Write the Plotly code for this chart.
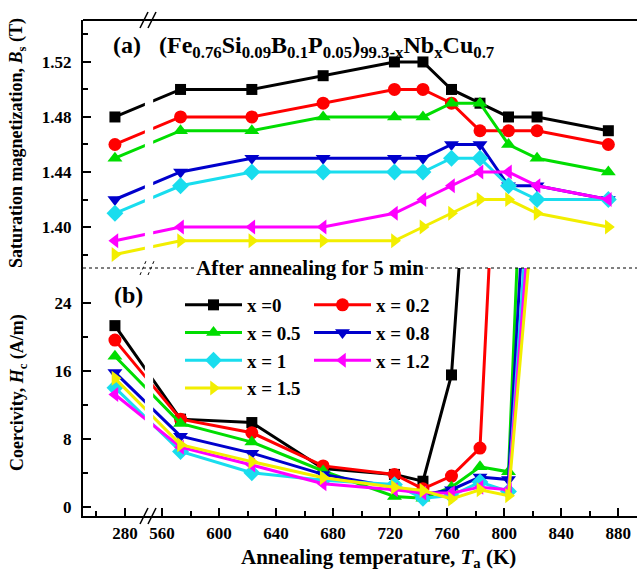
import plotly.graph_objects as go

# ---------------- data ----------------
T = [273, 573, 623, 673, 723, 743, 763, 783, 803, 823, 873]   # annealing temperature (K); 273 = as-quenched
labels = ["x =0", "x = 0.2", "x = 0.5", "x = 0.8", "x = 1", "x = 1.2", "x = 1.5"]

Bs_x0  = [1.48, 1.50, 1.50, 1.51, 1.52, 1.52, 1.50, 1.49, 1.48, 1.48, 1.47]
Bs_x02 = [1.46, 1.48, 1.48, 1.49, 1.50, 1.50, 1.49, 1.47, 1.47, 1.47, 1.46]
Bs_x05 = [1.45, 1.47, 1.47, 1.48, 1.48, 1.48, 1.49, 1.49, 1.46, 1.45, 1.44]
Bs_x08 = [1.42, 1.44, 1.45, 1.45, 1.45, 1.45, 1.46, 1.46, 1.43, 1.43, 1.42]
Bs_x1  = [1.41, 1.43, 1.44, 1.44, 1.44, 1.44, 1.45, 1.45, 1.43, 1.42, 1.42]
Bs_x12 = [1.39, 1.40, 1.40, 1.40, 1.41, 1.42, 1.43, 1.44, 1.44, 1.43, 1.42]
Bs_x15 = [1.38, 1.39, 1.39, 1.39, 1.39, 1.40, 1.41, 1.42, 1.42, 1.41, 1.40]

Hc_x0  = [21.3, 10.3, 9.9, 4.5, 3.8, 3.0, 15.5, 63, None, None, None]
Hc_x02 = [19.6, 10.3, 8.7, 4.8, 3.8, 2.1, 3.6, 6.9, 74, None, None]
Hc_x05 = [17.7, 9.8, 7.6, 4.2, 1.2, 1.0, 2.3, 4.7, 4.1, 86, None]
Hc_x08 = [15.8, 8.3, 6.3, 3.8, 2.3, 1.4, 2.0, 3.5, 3.2, 63, None]
Hc_x1  = [14.0, 6.5, 4.0, 3.1, 2.6, 1.0, 1.3, 2.9, 1.8, 51, None]
Hc_x12 = [13.2, 7.0, 4.9, 2.7, 2.0, 1.6, 1.6, 2.3, 2.0, 45, None]
Hc_x15 = [15.1, 7.3, 5.3, 3.4, 2.3, 1.9, 0.9, 2.0, 1.3, 40, None]

x_major_ticks = [280, 560, 600, 640, 680, 720, 760, 800, 840, 880]
x_minor_ticks = [260, 580, 620, 660, 700, 740, 780, 820, 860]
bs_ticks = [1.40, 1.44, 1.48, 1.52]
bs_minor = [1.38, 1.42, 1.46, 1.50, 1.54]
hc_ticks = [0, 8, 16, 24]
hc_minor = [4, 12, 20]

Bs_all = [Bs_x0, Bs_x02, Bs_x05, Bs_x08, Bs_x1, Bs_x12, Bs_x15]
Hc_all = [Hc_x0, Hc_x02, Hc_x05, Hc_x08, Hc_x1, Hc_x12, Hc_x15]

colors = ["#000000", "#FF0000", "#00DD00", "#0000CC", "#19DDEE", "#FF00FF", "#F2EE00"]
symbols = ["square", "circle", "triangle-up", "triangle-down", "diamond", "triangle-left", "triangle-right"]
msizes = [11, 13, 13, 13, 13, 13, 13]
legend_of = ["legend", "legend2", "legend", "legend2", "legend", "legend2", "legend"]

# ---------------- broken x axis ----------------
BREAK_OFFSET = 254.0   # low-temperature segment is shifted next to the 560 K segment
def brk(t):
    return t + BREAK_OFFSET if t < 400 else t

Xd = [brk(t) for t in T]

FONT = "Liberation Serif"

fig = go.Figure()
for i in range(len(labels)):
    fig.add_trace(go.Scatter(
        x=Xd, y=Bs_all[i], xaxis="x", yaxis="y2", mode="lines+markers",
        line=dict(color=colors[i], width=3),
        marker=dict(symbol=symbols[i], size=msizes[i], color=colors[i], line=dict(width=0)),
        showlegend=False, cliponaxis=True))
for i in range(len(labels)):
    fig.add_trace(go.Scatter(
        x=Xd, y=Hc_all[i], xaxis="x", yaxis="y", mode="lines+markers",
        name="<b>" + labels[i] + "</b>",
        line=dict(color=colors[i], width=3),
        marker=dict(symbol=symbols[i], size=msizes[i], color=colors[i], line=dict(width=0)),
        legend=legend_of[i], cliponaxis=True))

L, R, TOP, B = 83, 0, 20, 54
W, H = 637, 570
PW, PH = W - L - R, H - TOP - B
def px(xp):
    return (xp - L) / PW
def py(yp):
    return (H - B - yp) / PH

tickfont = dict(family=FONT, size=17, color="black", weight="bold")
fig.update_layout(
    width=W, height=H,
    margin=dict(l=L, r=R, t=TOP, b=B),
    paper_bgcolor="white", plot_bgcolor="white",
    font=dict(family=FONT, color="black"),
    xaxis=dict(
        range=[504.6, 893.1], domain=[0, 1], anchor="y",
        tickmode="array", tickvals=[brk(t) for t in x_major_ticks],
        ticktext=[str(t) for t in x_major_ticks],
        ticks="inside", ticklen=8, tickwidth=2, tickcolor="black",
        minor=dict(tickmode="array", tickvals=[brk(t) for t in x_minor_ticks],
                   ticks="inside", ticklen=5, tickwidth=2, tickcolor="black", showgrid=False),
        showline=True, linewidth=2, linecolor="black",
        showgrid=False, zeroline=False, tickfont=tickfont, ticklabelstandoff=1),
    yaxis=dict(
        domain=[0, 0.5], range=[-1.094, 28.08], anchor="x",
        tickmode="array", tickvals=hc_ticks, ticktext=[str(v) for v in hc_ticks],
        ticks="inside", ticklen=8, tickwidth=2, tickcolor="black",
        minor=dict(tickmode="array", tickvals=hc_minor, ticks="inside", ticklen=5,
                   tickwidth=2, tickcolor="black", showgrid=False),
        showline=True, linewidth=2, linecolor="black",
        showgrid=False, zeroline=False, tickfont=tickfont, ticklabelstandoff=6),
    yaxis2=dict(
        domain=[0.5, 1], range=[1.3702, 1.5505], anchor="x",
        tickmode="array", tickvals=bs_ticks, ticktext=["%.2f" % v for v in bs_ticks],
        ticks="inside", ticklen=8, tickwidth=2, tickcolor="black",
        minor=dict(tickmode="array", tickvals=bs_minor, ticks="inside", ticklen=5,
                   tickwidth=2, tickcolor="black", showgrid=False),
        showline=True, linewidth=2, linecolor="black",
        showgrid=False, zeroline=False, tickfont=tickfont, ticklabelstandoff=6),
    legend=dict(x=px(180), y=py(286), xanchor="left", yanchor="top",
                bgcolor="rgba(0,0,0,0)", borderwidth=0, itemwidth=57,
                font=dict(family=FONT, size=19, color="black"), tracegroupgap=0),
    legend2=dict(x=px(309), y=py(286), xanchor="left", yanchor="top",
                 bgcolor="rgba(0,0,0,0)", borderwidth=0, itemwidth=57,
                 font=dict(family=FONT, size=19, color="black"), tracegroupgap=0),
)

shapes = []
# white gap across the axis break
shapes.append(dict(type="rect", xref="x", yref="paper", x0=548.0, x1=553.8,
                   y0=0.006, y1=0.994, fillcolor="white", line=dict(width=0), layer="above"))
# top frame line
shapes.append(dict(type="line", xref="paper", yref="paper", x0=0, x1=1, y0=1, y1=1,
                   line=dict(color="black", width=2), layer="above"))
# panel divider (dotted)
shapes.append(dict(type="line", xref="paper", yref="paper", x0=0, x1=1, y0=0.5, y1=0.5,
                   line=dict(color="black", width=1, dash="dot"), layer="above"))
# break marks "//"
for (x0p, y0p, x1p, y1p, dash, w) in [
        (140, 28, 148, 12, "solid", 1.5), (148, 28, 156, 12, "solid", 1.5),
        (140, 524, 148, 508, "solid", 1.5), (148, 524, 156, 508, "solid", 1.5),
        (140, 275, 146, 261, "dot", 1), (148, 275, 154, 261, "dot", 1)]:
    shapes.append(dict(type="line", xref="paper", yref="paper",
                       x0=px(x0p), y0=py(y0p), x1=px(x1p), y1=py(y1p),
                       line=dict(color="black", width=w, dash=dash), layer="above"))
fig.update_layout(shapes=shapes)

ann = []
ann.append(dict(text="<b>(a)</b>", xref="paper", yref="paper", x=px(127), y=py(45),
                xanchor="center", yanchor="middle", showarrow=False,
                font=dict(family=FONT, size=24, color="black")))
ann.append(dict(text="<b>(Fe<sub>0.76</sub>Si<sub>0.09</sub>B<sub>0.1</sub>P<sub>0.05</sub>)"
                     "<sub>99.3-x</sub>Nb<sub>x</sub>Cu<sub>0.7</sub></b>",
                xref="paper", yref="paper", x=px(157), y=py(47),
                xanchor="left", yanchor="middle", showarrow=False,
                font=dict(family=FONT, size=24, color="black")))
ann.append(dict(text="<b>(b)</b>", xref="paper", yref="paper", x=px(128), y=py(295),
                xanchor="center", yanchor="middle", showarrow=False,
                font=dict(family=FONT, size=24, color="black")))
ann.append(dict(text="<b>After annealing for 5 min</b>", xref="paper", yref="paper",
                x=px(310), y=py(267.7), xanchor="center", yanchor="middle", showarrow=False,
                bgcolor="white", borderpad=0,
                font=dict(family=FONT, size=21, color="black")))
ann.append(dict(text="<b>Annealing temperature, <i>T</i><sub>a</sub> (K)</b>",
                xref="paper", yref="paper", x=px(378), y=py(558),
                xanchor="center", yanchor="middle", showarrow=False,
                font=dict(family=FONT, size=21, color="black")))
ann.append(dict(text="<b>Saturation magnetization, <i>B</i><sub>s</sub> (T)</b>",
                xref="paper", yref="paper", x=px(18), y=py(143),
                xanchor="center", yanchor="middle", showarrow=False, textangle=-90,
                font=dict(family=FONT, size=18, color="black")))
ann.append(dict(text="<b>Coercivity, <i>H</i><sub>c</sub> (A/m)</b>",
                xref="paper", yref="paper", x=px(18), y=py(393),
                xanchor="center", yanchor="middle", showarrow=False, textangle=-90,
                font=dict(family=FONT, size=18, color="black")))
fig.update_layout(annotations=ann)

fig.write_html("out.html")
